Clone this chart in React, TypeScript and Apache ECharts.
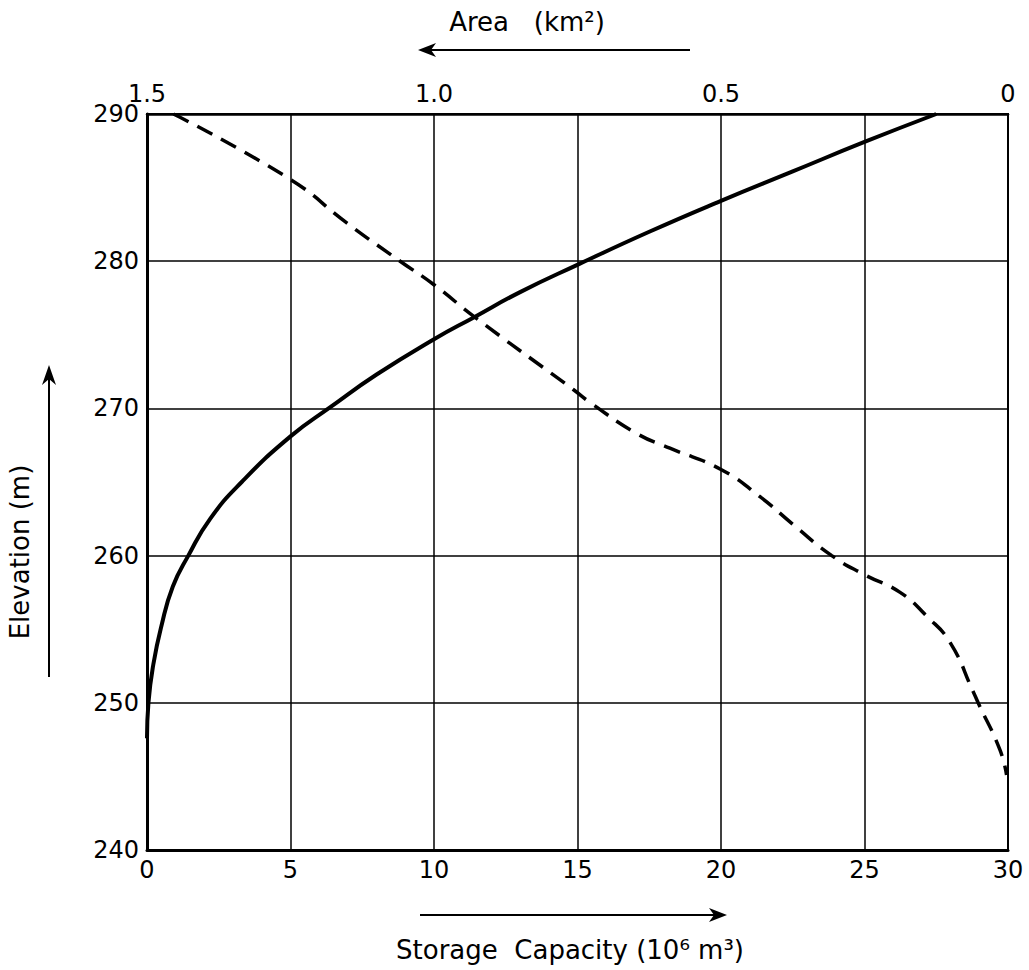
import React, { useEffect, useRef } from "react";
import * as echarts from "echarts";

// Storage capacity curve (bottom axis, 10^6 m^3) vs elevation (m)
const storageCapacity = [0, 0.05, 0.22, 0.5, 0.9, 1.44, 2.2, 3.3, 5, 6.4, 8, 10, 11.4, 13, 15.05, 17.5, 20, 22.5, 25, 27.5];
const storageElevation = [247.6, 250, 252.6, 255.2, 257.9, 260, 262.5, 265, 268.1, 270.1, 272.3, 274.7, 276.2, 277.9, 279.8, 282, 284.1, 286.1, 288.1, 290];

// Area curve (top axis, km^2) vs elevation (m)
const areaValues = [1.454, 1.25, 1.152, 1.059, 1.0, 0.929, 0.758, 0.728, 0.647, 0.589, 0.5, 0.432, 0.374, 0.307, 0.25, 0.188, 0.142, 0.101, 0.06, 0.052, 0.014, 0.0025];
const areaElevation = [290, 285.55, 282.6, 280, 278.4, 276.2, 271.3, 270.4, 268.3, 267.3, 265.85, 264.0, 262.1, 260, 258.7, 257.5, 255.9, 254.1, 250.7, 250, 246.8, 245.1];

const storageTicks = { min: 0, max: 30, interval: 5 };
const areaTicks = { min: 0, max: 1.5, interval: 0.5 };
const elevationTicks = { min: 240, max: 290, interval: 10 };

const FONT = "DejaVu Sans";

export default function App() {
  const ref = useRef<HTMLDivElement>(null);
  useEffect(() => {
    document.body.style.margin = "0";
    if (!ref.current) return;
    const chart = echarts.init(ref.current, null, { renderer: "svg" });
    const tickLabel = { fontSize: 24, color: "#000", fontFamily: FONT };
    chart.setOption({
      animation: false,
      backgroundColor: "#fff",
      grid: {
        left: 147,
        right: 21,
        top: 114,
        bottom: 120,
        show: true,
        borderColor: "#000",
        borderWidth: 2,
      },
      xAxis: [
        {
          type: "value",
          position: "bottom",
          ...storageTicks,
          axisLine: { show: true, onZero: false, lineStyle: { color: "#000", width: 3 } },
          axisTick: { show: false },
          axisLabel: { ...tickLabel, margin: 8 },
          splitLine: { show: true, lineStyle: { color: "#000", width: 1.5 } },
        },
        {
          type: "value",
          position: "top",
          inverse: true,
          ...areaTicks,
          axisLine: { show: true, onZero: false, lineStyle: { color: "#000", width: 2.5 } },
          axisTick: { show: false },
          axisLabel: {
            ...tickLabel,
            margin: 8,
            formatter: (v: number) => (v === 0 ? "0" : v.toFixed(1)),
          },
          splitLine: { show: false },
        },
      ],
      yAxis: {
        type: "value",
        ...elevationTicks,
        axisLine: { show: true, onZero: false, lineStyle: { color: "#000", width: 3 } },
        axisTick: { show: false },
        axisLabel: { ...tickLabel, margin: 8 },
        splitLine: { show: true, lineStyle: { color: "#000", width: 1.5 } },
      },
      series: [
        {
          type: "line",
          xAxisIndex: 0,
          data: storageCapacity.map((s, i) => [s, storageElevation[i]]),
          smooth: 0.5,
          symbol: "none",
          lineStyle: { color: "#000", width: 4 },
        },
        {
          type: "line",
          xAxisIndex: 1,
          data: areaValues.map((a, i) => [a, areaElevation[i]]),
          smooth: 0.5,
          symbol: "none",
          lineStyle: { color: "#000", width: 3.5, type: [17, 10] },
        },
      ],
      graphic: [
        {
          type: "text",
          x: 527,
          y: 22,
          style: {
            text: "Area   (km²)",
            fontSize: 26,
            fontFamily: FONT,
            fill: "#000",
            align: "center",
            verticalAlign: "middle",
          },
        },
        {
          type: "line",
          shape: { x1: 425, y1: 50, x2: 690, y2: 50 },
          style: { stroke: "#000", lineWidth: 2 },
        },
        {
          type: "polygon",
          shape: { points: [[418, 50], [436, 43], [431, 50], [436, 57]] },
          style: { fill: "#000" },
        },
        {
          type: "line",
          shape: { x1: 420, y1: 915, x2: 715, y2: 915 },
          style: { stroke: "#000", lineWidth: 2 },
        },
        {
          type: "polygon",
          shape: { points: [[727, 915], [709, 908], [714, 915], [709, 922]] },
          style: { fill: "#000" },
        },
        {
          type: "text",
          x: 570,
          y: 950,
          style: {
            text: "Storage  Capacity (10⁶ m³)",
            fontSize: 26,
            fontFamily: FONT,
            fill: "#000",
            align: "center",
            verticalAlign: "middle",
          },
        },
        {
          type: "text",
          x: 20,
          y: 552,
          rotation: Math.PI / 2,
          style: {
            text: "Elevation (m)",
            fontSize: 26,
            fontFamily: FONT,
            fill: "#000",
            align: "center",
            verticalAlign: "middle",
          },
        },
        {
          type: "line",
          shape: { x1: 49, y1: 677, x2: 49, y2: 375 },
          style: { stroke: "#000", lineWidth: 2 },
        },
        {
          type: "polygon",
          shape: { points: [[49, 365], [42, 385], [49, 379], [56, 385]] },
          style: { fill: "#000" },
        },
      ],
    });
    return () => chart.dispose();
  }, []);
  return <div ref={ref} style={{ width: 1029, height: 970 }} />;
}
